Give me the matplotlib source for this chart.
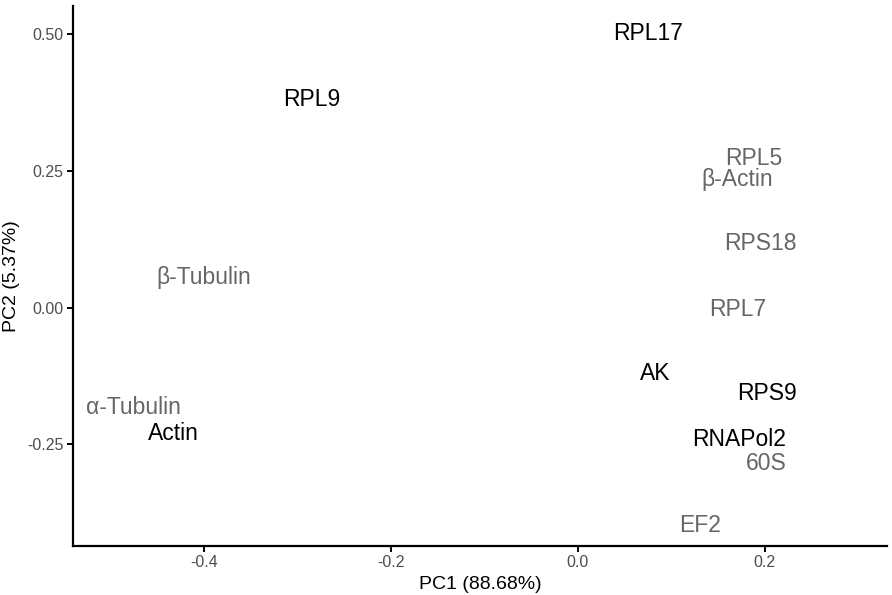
import matplotlib.pyplot as plt
import numpy as np

plt.rcParams['font.family'] = ['Liberation Sans', 'DejaVu Sans']

# PCA scores of the reference genes
genes = ['RPL17', 'RPL9', 'RPL5', 'β-Actin', 'RPS18', 'β-Tubulin', 'RPL7',
         'AK', 'RPS9', 'α-Tubulin', 'Actin', 'RNAPol2', '60S', 'EF2']
pc1 = [0.0755, -0.285, 0.188, 0.171, 0.196, -0.400, 0.171,
       0.083, 0.203, -0.475, -0.4325, 0.173, 0.2016, 0.1305]
pc2 = [0.5045, 0.3846, 0.277, 0.238, 0.122, 0.0595, 0.0005,
       -0.115, -0.152, -0.178, -0.225, -0.237, -0.281, -0.393]
# 1 = stable (black), 0 = grey
group = [1, 1, 0, 0, 0, 0, 0, 1, 1, 0, 1, 1, 0, 0]

xticks = [-0.4, -0.2, 0.0, 0.2]
yticks = [-0.25, 0.0, 0.25, 0.50]

fig = plt.figure(figsize=(8.92, 5.95), dpi=100)
ax = fig.add_axes([73/892, 49.3/595, 814/892, 539.7/595])

for g, x, y, k in zip(genes, pc1, pc2, group):
    ax.text(x, y, g, ha='center', va='center_baseline', fontsize=16.5,
            color='black' if k else '#666666')

ax.set_xlim(-0.540, 0.331)
ax.set_ylim(-0.435, 0.551)
ax.set_xticks(xticks)
ax.set_xticklabels(['%.1f' % t for t in xticks])
ax.set_yticks(yticks)
ax.set_yticklabels(['%.2f' % t for t in yticks])

for s in ['top', 'right']:
    ax.spines[s].set_visible(False)
for s in ['left', 'bottom']:
    ax.spines[s].set_linewidth(1.6)
ax.tick_params(axis='both', length=4, width=1.4, labelsize=11.5,
               labelcolor='#4d4d4d', pad=3)

ax.set_xlabel('PC1 (88.68%)', fontsize=14, labelpad=4)
ax.set_ylabel('PC2 (5.37%)', fontsize=14, labelpad=5)

fig.savefig('out.png', dpi=100)
